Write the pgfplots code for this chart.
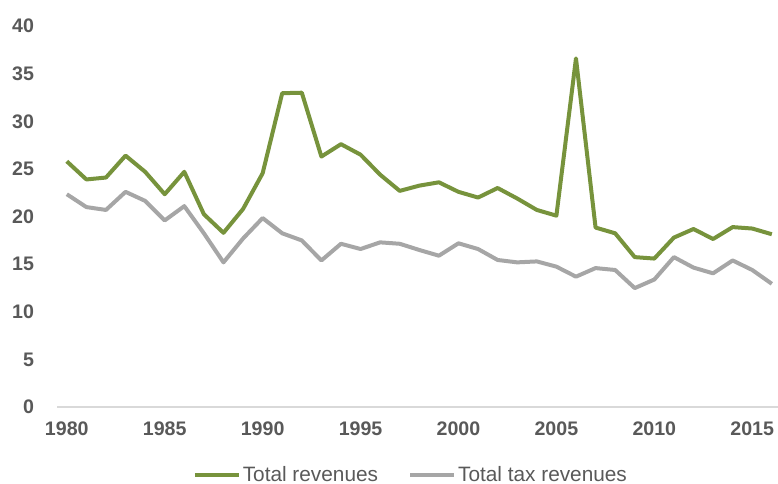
\documentclass[border=0pt]{standalone}
\usepackage{pgfplots}
\pgfplotsset{compat=1.18}
\usepackage{fontspec}
\setmainfont{Liberation Sans}
\definecolor{revgreen}{HTML}{77933C}
\definecolor{taxgray}{HTML}{A6A6A6}
\definecolor{txtgray}{HTML}{595959}
\definecolor{axgray}{HTML}{D9D9D9}

\begin{document}
\begin{tikzpicture}
\begin{axis}[
  scale only axis,
  width=360.3pt, height=190.6pt,
  xmin=1979.5, xmax=2016.3,
  ymin=0, ymax=40,
  xtick={1980,1985,...,2015},
  ytick={0,5,...,40},
  axis lines*=left,
  axis line style={-},
  x axis line style={draw=axgray, line width=0.8pt},
  y axis line style={draw=none},
  major tick length=0pt,
  clip=false,
  tick label style={font=\fontsize{9.8}{11}\selectfont\bfseries, text=txtgray},
  /pgf/number format/assume math mode=true,
  /pgf/number format/1000 sep={},
  x tick label style={yshift=-4pt},
  y tick label style={xshift=-8pt},
  legend style={draw=none, fill=none, legend columns=2,
    at={(0.491,-0.178)}, anchor=center,
    font=\fontsize{10.4}{12}\selectfont, text=txtgray,
    nodes={inner xsep=1pt},
    /tikz/every even column/.append style={column sep=14pt}},
  legend cell align=left,
  legend image code/.code={\draw[#1] (0pt,0pt) -- (22pt,0pt);},
]
\addplot[revgreen, line width=2pt, line join=round] coordinates {
(1980,25.8) (1981,23.9) (1982,24.1) (1983,26.4) (1984,24.7) (1985,22.35)
(1986,24.7) (1987,20.25) (1988,18.3) (1989,20.8) (1990,24.55) (1991,32.95)
(1992,33.0) (1993,26.3) (1994,27.6) (1995,26.5) (1996,24.4) (1997,22.7)
(1998,23.25) (1999,23.6) (2000,22.6) (2001,22.0) (2002,23.0) (2003,21.9)
(2004,20.7) (2005,20.1) (2006,36.6) (2007,18.85) (2008,18.25) (2009,15.75)
(2010,15.6) (2011,17.8) (2012,18.7) (2013,17.65) (2014,18.9) (2015,18.75)
(2016,18.15)};
\addlegendentry{Total revenues}
\addplot[taxgray, line width=2pt, line join=round] coordinates {
(1980,22.35) (1981,21.0) (1982,20.7) (1983,22.6) (1984,21.65) (1985,19.6)
(1986,21.1) (1987,18.25) (1988,15.2) (1989,17.7) (1990,19.85) (1991,18.25)
(1992,17.5) (1993,15.4) (1994,17.15) (1995,16.6) (1996,17.3) (1997,17.15)
(1998,16.5) (1999,15.9) (2000,17.2) (2001,16.6) (2002,15.45) (2003,15.2)
(2004,15.3) (2005,14.75) (2006,13.7) (2007,14.6) (2008,14.4) (2009,12.5)
(2010,13.4) (2011,15.75) (2012,14.65) (2013,14.05) (2014,15.4) (2015,14.4)
(2016,12.95)};
\addlegendentry{Total tax revenues}
\end{axis}
\pgfresetboundingbox
\path ([xshift=-28.5pt,yshift=-38.35pt]current axis.south west)
  rectangle ([xshift=0.15pt,yshift=13pt]current axis.north east);
\end{tikzpicture}
\end{document}
